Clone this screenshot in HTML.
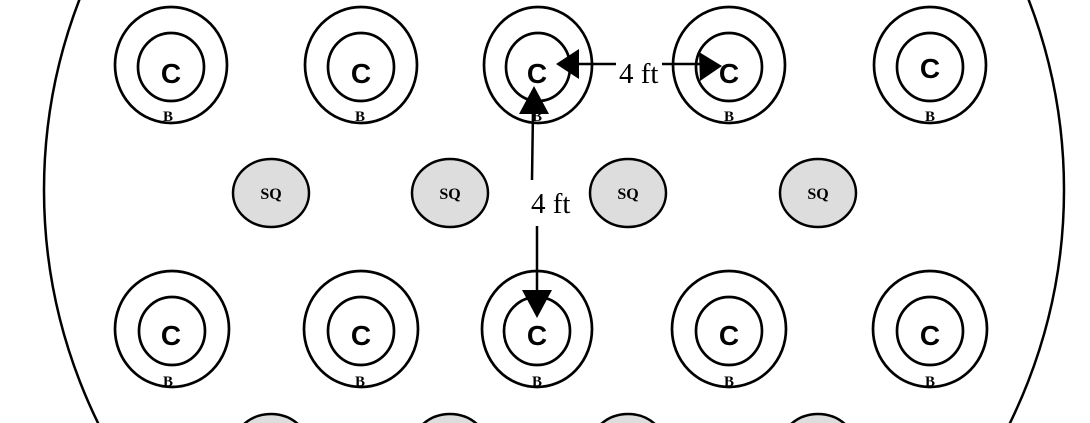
<!DOCTYPE html>
<html><head><style>html,body{margin:0;background:#fff;overflow:hidden;width:1090px;height:423px}svg{display:block}</style></head><body>
<svg width="1090" height="423" viewBox="0 0 1090 423" xmlns="http://www.w3.org/2000/svg">
<ellipse cx="554" cy="190" rx="510" ry="520" fill="none" stroke="#000" stroke-width="2.5"/>
<g fill="#ddd" stroke="#000" stroke-width="2.5">
<ellipse cx="271" cy="193" rx="38" ry="34"/><ellipse cx="450" cy="193" rx="38" ry="34"/>
<ellipse cx="628" cy="193" rx="38" ry="34"/><ellipse cx="818" cy="193" rx="38" ry="34"/>
<ellipse cx="271" cy="448" rx="38" ry="34"/><ellipse cx="450" cy="448" rx="38" ry="34"/>
<ellipse cx="628" cy="448" rx="38" ry="34"/><ellipse cx="818" cy="448" rx="38" ry="34"/>
</g>
<g font-family="Liberation Serif, serif" font-weight="bold" font-size="16" text-anchor="middle">
<text x="271" y="199">SQ</text><text x="450" y="199">SQ</text><text x="628" y="199">SQ</text><text x="818" y="199">SQ</text>
</g>
<g fill="none" stroke="#000" stroke-width="2.7">
<ellipse cx="171" cy="65" rx="56" ry="58"/><ellipse cx="171" cy="67" rx="33" ry="34"/>
<ellipse cx="361" cy="65" rx="56" ry="58"/><ellipse cx="361" cy="67" rx="33" ry="34"/>
<ellipse cx="538" cy="65" rx="54" ry="58"/><ellipse cx="538" cy="67" rx="32" ry="34"/>
<ellipse cx="729" cy="65" rx="56" ry="58"/><ellipse cx="729" cy="67" rx="33" ry="34"/>
<ellipse cx="930" cy="65" rx="56" ry="58"/><ellipse cx="930" cy="67" rx="33" ry="34"/>
<ellipse cx="172" cy="329" rx="57" ry="58"/><ellipse cx="172" cy="331" rx="33" ry="34"/>
<ellipse cx="361" cy="329" rx="57" ry="58"/><ellipse cx="361" cy="331" rx="33" ry="34"/>
<ellipse cx="537" cy="329" rx="55" ry="58"/><ellipse cx="537" cy="331" rx="33" ry="34"/>
<ellipse cx="729" cy="329" rx="57" ry="58"/><ellipse cx="729" cy="331" rx="33" ry="34"/>
<ellipse cx="930" cy="329" rx="57" ry="58"/><ellipse cx="930" cy="331" rx="33" ry="34"/>
</g>
<g font-family="Liberation Sans, sans-serif" font-weight="bold" font-size="28" text-anchor="middle">
<text x="171" y="83">C</text><text x="361" y="83">C</text><text x="537" y="83">C</text><text x="729" y="83">C</text><text x="930" y="78">C</text>
<text x="171" y="345">C</text><text x="361" y="345">C</text><text x="537" y="345">C</text><text x="729" y="345">C</text><text x="930" y="345">C</text>
</g>
<g font-family="Liberation Serif, serif" font-weight="bold" font-size="15" text-anchor="middle">
<text x="168" y="121">B</text><text x="360" y="121">B</text><text x="537" y="121">B</text><text x="729" y="121">B</text><text x="930" y="121">B</text>
<text x="168" y="386">B</text><text x="360" y="386">B</text><text x="537" y="386">B</text><text x="729" y="386">B</text><text x="930" y="386">B</text>
</g>
<g stroke="#000" stroke-width="2.5">
<line x1="575" y1="64" x2="616" y2="64"/><line x1="662" y1="64" x2="702" y2="64"/>
<line x1="533" y1="110" x2="532" y2="180"/><line x1="537" y1="226" x2="537" y2="300"/>
</g>
<g fill="#000">
<polygon points="556,64 579,49 579,79"/>
<polygon points="722,66 699,52 700,81"/>
<polygon points="534,86 519,114 549,114"/>
<polygon points="537,318 522,290 552,290"/>
</g>
<g font-family="Liberation Serif, serif" font-size="29">
<text x="619" y="83">4 ft</text><text x="531" y="213">4 ft</text>
</g>
</svg>
</body></html>
